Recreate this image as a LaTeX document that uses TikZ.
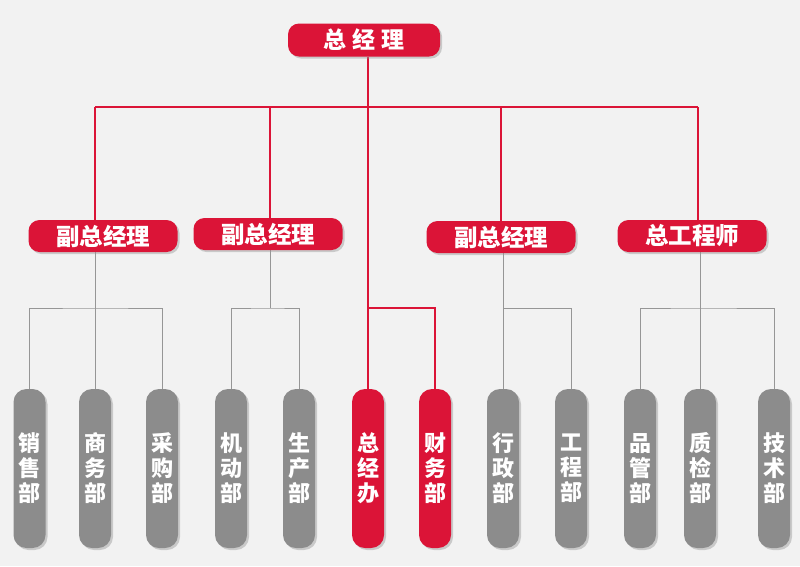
\documentclass[tikz,border=0pt]{standalone}
\usepackage{fontspec}
\newfontfamily\cjk{Noto Sans CJK SC}
\usetikzlibrary{shadows}
\definecolor{bgc}{RGB}{242,242,242}
\definecolor{cred}{RGB}{219,20,55}
\definecolor{cgray}{RGB}{140,140,140}
\definecolor{lgray}{RGB}{150,150,150}
\pgfdeclarelayer{bgfill}
\pgfdeclarelayer{lines}
\pgfsetlayers{bgfill,lines,main}
\tikzset{
  shad/.style={drop shadow={shadow xshift=2pt, shadow yshift=-2pt, fill=black!40, opacity=0.45}},
  topbox/.style={shad, fill=cred, rounded corners=11pt, minimum width=152pt, minimum height=33pt, inner sep=0pt, text=white, font=\cjk\bfseries\fontsize{23}{23}\selectfont},
  midbox/.style={shad, fill=cred, rounded corners=11pt, minimum width=149pt, minimum height=32pt, inner sep=0pt, text=white, font=\cjk\bfseries\fontsize{23.5}{23.5}\selectfont},
  leafbox/.style={shad, fill=cgray, rounded corners=13pt, minimum width=32pt, minimum height=159pt, inner sep=0pt, text=white, align=center, font=\cjk\bfseries\fontsize{22}{25}\selectfont},
  redleaf/.style={leafbox, fill=cred},
  redline/.style={draw=cred, line width=1.1pt},
  grayline/.style={draw=lgray, line width=0.9pt}
}
\begin{document}
\begin{tikzpicture}[x=1pt,y=-1pt]
\begin{pgfonlayer}{bgfill}
\fill[bgc] (0,0) rectangle (800,566);
\end{pgfonlayer}
\useasboundingbox (0,0) rectangle (800,566);

\node[topbox] (top) at (364,40) {总\hspace{6pt}经\hspace{6pt}理};
\node[midbox] (m1) at (103,236) {副总经理};
\node[midbox] (m2) at (268,234) {副总经理};
\node[midbox] (m3) at (501,237) {副总经理};
\node[midbox] (m4) at (692,236) {总工程师};

\node[leafbox] (l1) at (29.5,468.5) {销\\售\\部};
\node[leafbox] (l2) at (95,468.5) {商\\务\\部};
\node[leafbox] (l3) at (162,468.5) {采\\购\\部};
\node[leafbox] (l4) at (231,468.5) {机\\动\\部};
\node[leafbox] (l5) at (299,468.5) {生\\产\\部};
\node[redleaf] (l6) at (368,468.5) {总\\经\\办};
\node[redleaf] (l7) at (435,468.5) {财\\务\\部};
\node[leafbox] (l8) at (503,468.5) {行\\政\\部};
\node[leafbox] (l9) at (571,468.5) {工\\程\\部};
\node[leafbox] (l10) at (640,468.5) {品\\管\\部};
\node[leafbox] (l11) at (700,468.5) {质\\检\\部};
\node[leafbox] (l12) at (774,468.5) {技\\术\\部};

\coordinate (hL) at (95,107);
\coordinate (hR) at (698,107);
\coordinate (trunk) at (368,107);
\coordinate (b1) at (95,107);
\coordinate (b2) at (270,107);
\coordinate (b3) at (501,107);
\coordinate (b4) at (698,107);
\coordinate (rj) at (368,308);
\coordinate (g1) at (95,308);
\coordinate (g2) at (270,308);
\coordinate (g3) at (503,308);
\coordinate (g4) at (700,308);

\begin{pgfonlayer}{lines}
% red lines
\draw[redline] (hL) -- (hR);
\draw[redline] (top.south -| trunk) -- (trunk |- l6.north);
\draw[redline] (b1) -- (b1 |- m1.north);
\draw[redline] (b2) -- (b2 |- m2.north);
\draw[redline] (b3) -- (b3 |- m3.north);
\draw[redline] (b4) -- (b4 |- m4.north);
\draw[redline] (rj) -| (l7.north);
% gray lines
\draw[grayline] (g1 |- m1.south) -- (g1);
\draw[grayline] (l1.north) |- (g1) -| (l3.north);
\draw[grayline] (g1) -- (l2.north);
\draw[grayline] (g2 |- m2.south) -- (g2);
\draw[grayline] (l4.north) |- (g2) -| (l5.north);
\draw[grayline] (g3 |- m3.south) -- (g3);
\draw[grayline] (l8.north) |- (g3) -| (l9.north);
\draw[grayline] (g4 |- m4.south) -- (g4);
\draw[grayline] (l10.north) |- (g4) -| (l12.north);
\draw[grayline] (g4) -- (l11.north);
\end{pgfonlayer}
\end{tikzpicture}
\end{document}
